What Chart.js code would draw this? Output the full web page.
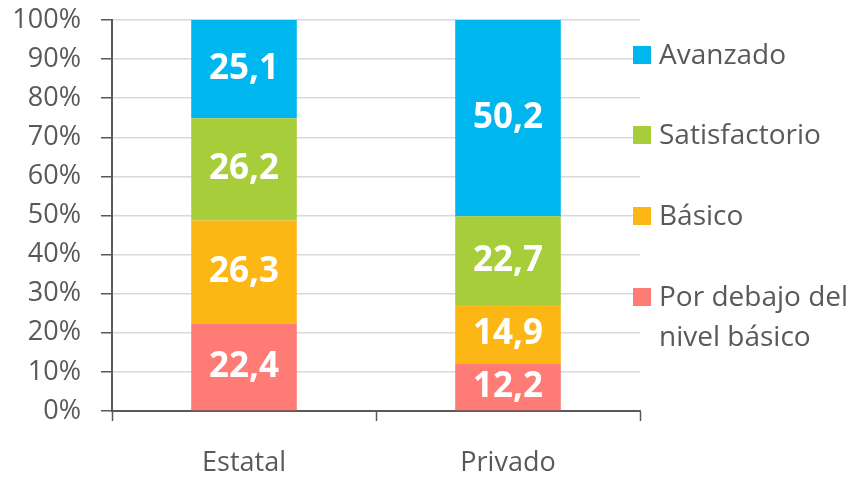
<!DOCTYPE html>
<html>
<head>
<meta charset="utf-8">
<script src="https://cdn.jsdelivr.net/npm/chart.js@4"></script>
<style>
  html, body { margin: 0; padding: 0; background: #fff; }
  canvas { display: block; }
</style>
</head>
<body>
<canvas id="nivelesChart" width="849" height="477"></canvas>
<script>
// categorias y valores (porcentajes)
const categories = ["Estatal", "Privado"];
const porDebajo = [22.4, 12.2];
const basico = [26.3, 14.9];
const satisfactorio = [26.2, 22.7];
const avanzado = [25.1, 50.2];
const yTicks = [0, 10, 20, 30, 40, 50, 60, 70, 80, 90, 100];

const FONT = "'Open Sans', 'Noto Sans', sans-serif";
const TEXT = '#595959';

// leyenda a la derecha, en el orden del original (arriba -> abajo)
const legendItems = [
    { lines: ["Avanzado"], color: '#00B6EF' },
    { lines: ["Satisfactorio"], color: '#A8CD3B' },
    { lines: ["Básico"], color: '#FDB714' },
    { lines: ["Por debajo del", "nivel básico"], color: '#FF7C76' }
];

const sideLegend = {
    id: 'sideLegend',
    afterDraw(chart) {
        const ctx = chart.ctx;
        const x0 = chart.chartArea.right - 7;
        const rows = [55, 135, 216, 297];
        ctx.save();
        ctx.font = '28px ' + FONT;
        ctx.textBaseline = 'middle';
        legendItems.forEach((item, i) => {
            const y = rows[i];
            ctx.fillStyle = item.color;
            ctx.fillRect(x0, y - 9, 18, 18);
            ctx.fillStyle = TEXT;
            item.lines.forEach((ln, j) => {
                ctx.fillText(ln, x0 + 26, y + 1 + j * 40);
            });
        });
        ctx.restore();
    }
};

const barLabels = {
    id: 'barLabels',
    afterDatasetsDraw(chart) {
        const ctx = chart.ctx;
        ctx.save();
        ctx.font = 'bold 35px ' + FONT;
        ctx.fillStyle = '#fff';
        ctx.textAlign = 'center';
        ctx.textBaseline = 'middle';
        chart.data.datasets.forEach((ds, di) => {
            chart.getDatasetMeta(di).data.forEach((bar, i) => {
                const y = (bar.y + bar.base) / 2;
                ctx.fillText(ds.data[i].toFixed(1).replace('.', ','), bar.x, y);
            });
        });
        ctx.restore();
    }
};

const ctx = document.getElementById('nivelesChart').getContext('2d');
new Chart(ctx, {
    type: 'bar',
    data: {
        labels: categories,
        datasets: [
            { label: 'Por debajo del nivel básico', data: porDebajo, backgroundColor: legendItems[3].color },
            { label: 'Básico', data: basico, backgroundColor: legendItems[2].color },
            { label: 'Satisfactorio', data: satisfactorio, backgroundColor: legendItems[1].color },
            { label: 'Avanzado', data: avanzado, backgroundColor: legendItems[0].color }
        ]
    },
    options: {
        responsive: false,
        animation: false,
        layout: { padding: { top: 20, right: 209, left: 0, bottom: 0 } },
        datasets: { bar: { categoryPercentage: 0.8, barPercentage: 0.5 } },
        plugins: { legend: { display: false }, tooltip: { enabled: false } },
        scales: {
            x: {
                stacked: true,
                afterFit(scale) { scale.height = 66; scale.paddingLeft = 0; scale.paddingRight = 0; },
                grid: { drawOnChartArea: false, tickLength: 10, tickColor: TEXT, tickWidth: 1.5 },
                border: { color: TEXT, width: 2 },
                ticks: { color: TEXT, font: { family: FONT, size: 27 }, padding: 26 }
            },
            y: {
                stacked: true,
                min: 0,
                max: 100,
                afterBuildTicks(scale) { scale.ticks = yTicks.map(v => ({ value: v })); },
                afterFit(scale) { scale.width = 112; scale.paddingTop = 0; scale.paddingBottom = 0; },
                grid: { color: '#D9D9D9', lineWidth: 1.5, tickLength: 11, tickColor: TEXT },
                border: { color: TEXT, width: 2 },
                ticks: {
                    color: TEXT,
                    font: { family: FONT, size: 27 },
                    padding: 20,
                    callback: v => v + '%'
                }
            }
        }
    },
    plugins: [barLabels, sideLegend]
});
</script>
</body>
</html>
